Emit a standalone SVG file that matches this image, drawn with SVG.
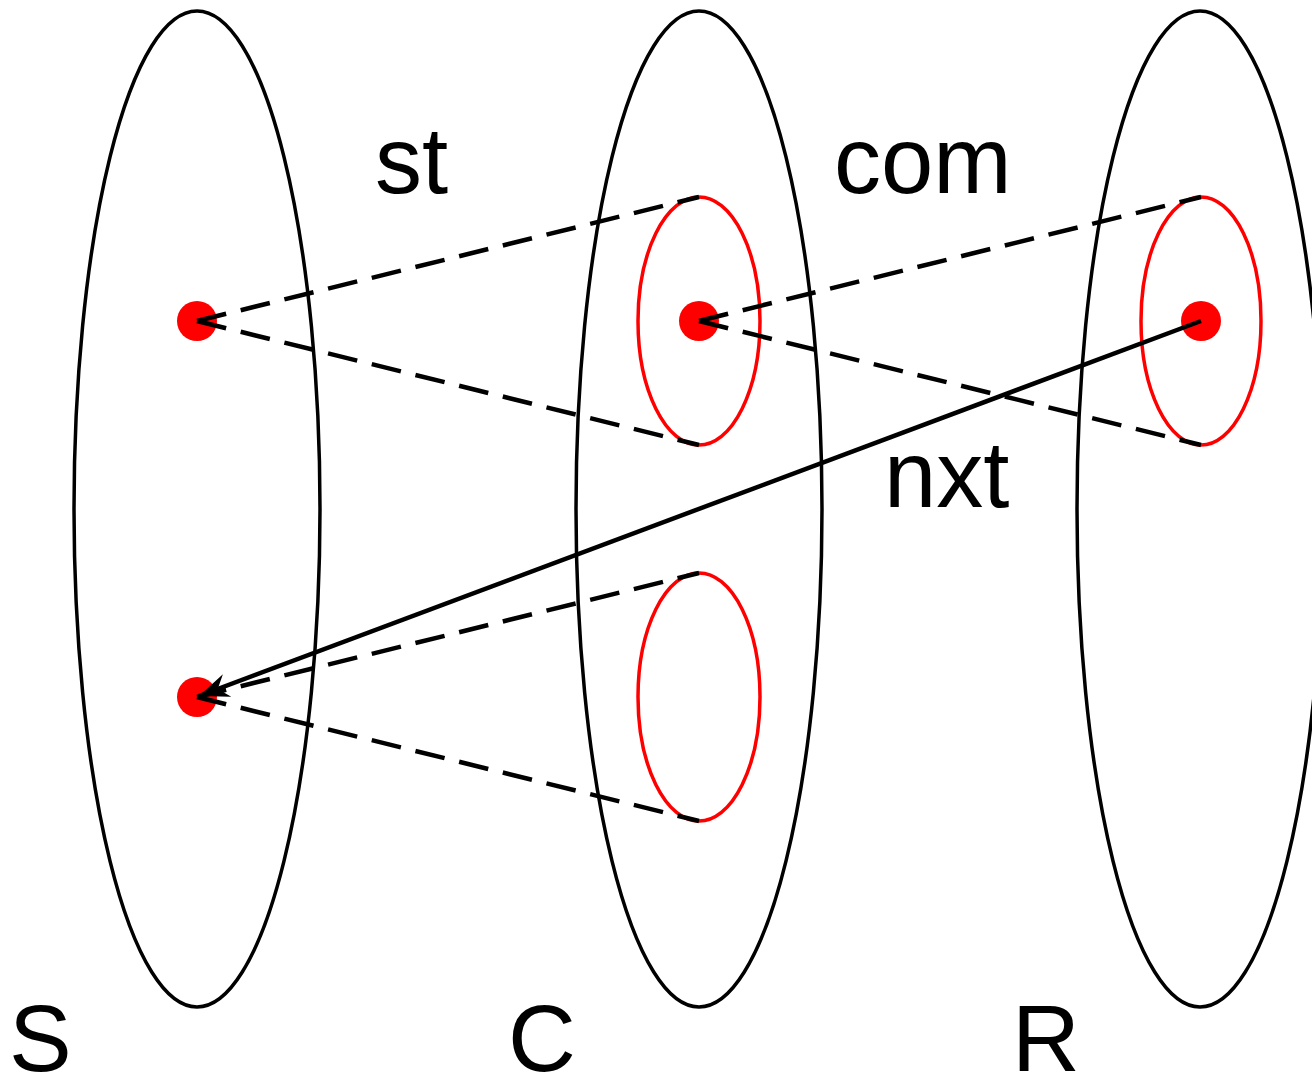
<svg xmlns="http://www.w3.org/2000/svg" width="1312" height="1079" viewBox="0 0 1312 1079">
<style>
.big{fill:none;stroke:#000;stroke-width:3.5}
.red{fill:none;stroke:#f00;stroke-width:3.5}
.dot{fill:#f00}
.dash{fill:none;stroke:#000;stroke-width:4.5;stroke-dasharray:30 15}
.arr{fill:none;stroke:#000;stroke-width:4.5}
.lbl{font-family:"Liberation Sans",Arial,sans-serif;font-size:94px;fill:#000}
</style>
<defs>
<marker id="ah" viewBox="-32 -13 34 26" refX="0" refY="0" markerWidth="34" markerHeight="26" markerUnits="userSpaceOnUse" orient="auto">
<path d="M0,0 L-30,-12 L-20,0 L-30,12 Z" fill="#000"/>
</marker>
</defs>
<g id="S"><ellipse class="big" cx="197" cy="509" rx="123" ry="498"/><text class="lbl" x="9" y="1071">S</text></g>
<g id="C"><ellipse class="big" cx="699" cy="509" rx="123" ry="498"/><text class="lbl" x="508" y="1071">C</text></g>
<g id="R"><ellipse class="big" cx="1200" cy="509" rx="123" ry="498"/><text class="lbl" x="1012" y="1071">R</text></g>
<g id="C1"><ellipse class="red" cx="699" cy="321" rx="61" ry="124"/></g>
<g id="C2"><ellipse class="red" cx="699" cy="697" rx="61" ry="124"/></g>
<g id="R1"><ellipse class="red" cx="1201" cy="321" rx="60" ry="124"/></g>
<g id="s1"><circle class="dot" cx="197" cy="321" r="20"/></g>
<g id="s2"><circle class="dot" cx="197" cy="697" r="20"/></g>
<g id="c1"><circle class="dot" cx="699" cy="321" r="20"/></g>
<g id="r1"><circle class="dot" cx="1201" cy="321" r="20"/></g>
<g id="connectors">
<line class="dash" x1="197" y1="321" x2="699" y2="197"/>
<line class="dash" x1="197" y1="321" x2="699" y2="445"/>
<line class="dash" x1="699" y1="321" x2="1201" y2="197"/>
<line class="dash" x1="699" y1="321" x2="1201" y2="445"/>
<line class="dash" x1="197" y1="697" x2="699" y2="573"/>
<line class="dash" x1="197" y1="697" x2="699" y2="821"/>
<line class="arr" x1="1201" y1="321" x2="199" y2="696" marker-end="url(#ah)"/>
</g>
<g id="labels">
<text class="lbl" x="375" y="193">st</text>
<text class="lbl" x="834" y="193">com</text>
<text class="lbl" x="884" y="507">nxt</text>
</g>
</svg>
